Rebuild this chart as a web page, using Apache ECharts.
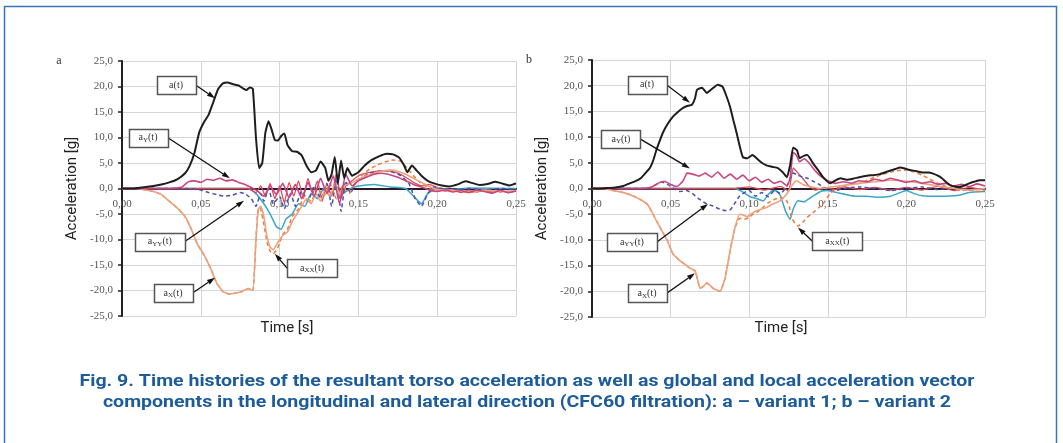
<!DOCTYPE html>
<html><head><meta charset="utf-8">
<script src="https://cdn.jsdelivr.net/npm/echarts@6/dist/echarts.min.js"></script>
<style>html,body{margin:0;padding:0;background:#fff}#c{width:1063px;height:443px}</style>
</head><body><div id="c"></div>
<script>
// ---------- DATA (time [s], acceleration [g]) ----------
const xTickStep = 0.05, yTickStep = 5;
// Panel a – variant 1
const a_res_A = [[0,0],[0.005,0],[0.01,0.1],[0.015,0.3],[0.02,0.5],[0.025,0.8],[0.03,1.2],[0.035,1.8],[0.04,3],[0.043,4.5],[0.046,7],[0.049,11],[0.052,13],[0.055,14.5],[0.058,17],[0.061,19.5],[0.064,20.6],[0.067,20.8],[0.07,20.5],[0.074,20.2],[0.077,19.6],[0.079,19.3],[0.081,19.8],[0.083,19.6],[0.085,10],[0.087,4],[0.089,5],[0.091,11],[0.093,13.2],[0.095,11.5],[0.097,9.5],[0.099,9.4],[0.101,10.3],[0.103,10.8],[0.105,8.5],[0.108,7.3],[0.111,7.2],[0.114,6.5],[0.117,4.5],[0.12,3.2],[0.123,3.5],[0.126,5.3],[0.129,4],[0.131,1.5],[0.133,2.8],[0.135,6.2],[0.137,1],[0.139,5.5],[0.141,2],[0.143,4],[0.146,2.5],[0.15,3.2],[0.154,4.5],[0.158,5.5],[0.163,6.3],[0.168,6.8],[0.172,6.7],[0.176,6],[0.179,4.5],[0.181,3.2],[0.184,4.5],[0.187,3.5],[0.19,2.5],[0.194,1.5],[0.198,1],[0.203,0.6],[0.208,0.4],[0.213,0.8],[0.218,1.4],[0.222,1.1],[0.227,0.7],[0.232,0.9],[0.237,1.3],[0.242,0.9],[0.246,0.6],[0.25,1]];
const a_Y_A = [[0,0],[0.03,0],[0.038,0.3],[0.042,1.3],[0.046,1.5],[0.05,1.2],[0.054,1.8],[0.058,1.6],[0.062,2],[0.066,1.5],[0.07,1.7],[0.074,1.2],[0.078,0.8],[0.082,0.2],[0.086,-0.5],[0.09,-1.5],[0.094,0.5],[0.098,-1.2],[0.102,1],[0.106,-1.8],[0.11,0.8],[0.114,-2],[0.118,1.2],[0.122,-1.5],[0.126,2],[0.13,-1],[0.134,2.5],[0.138,-3],[0.142,2.8],[0.146,0.5],[0.15,1.5],[0.155,2.2],[0.16,2.8],[0.165,3],[0.17,2.7],[0.175,2.2],[0.18,1.5],[0.185,0.8],[0.19,0.3],[0.195,-0.3],[0.2,-0.6],[0.205,-0.3],[0.21,-0.7],[0.215,-0.4],[0.22,-0.8],[0.225,-0.3],[0.23,-0.6],[0.235,-0.9],[0.24,-0.4],[0.245,-0.8],[0.25,-0.5]];
const a_YY_A = [[0,0],[0.04,0],[0.05,-0.3],[0.055,-0.8],[0.06,-1.2],[0.065,-1.5],[0.07,-1.3],[0.075,-0.8],[0.078,-1],[0.082,-2],[0.085,-3.5],[0.088,-1],[0.09,-2.5],[0.093,0],[0.096,-3],[0.1,-1.5],[0.103,-4],[0.107,-1],[0.11,-3.5],[0.114,-0.5],[0.118,-2.5],[0.122,0.5],[0.126,-2],[0.13,1],[0.133,-3.5],[0.136,2],[0.139,-4.5],[0.142,1.5],[0.145,-1],[0.148,1],[0.152,2],[0.157,3],[0.162,3.3],[0.167,3.5],[0.172,3.2],[0.177,2.5],[0.182,1],[0.186,-2],[0.19,-3.5],[0.194,-1],[0.198,0.3],[0.203,0],[0.21,-0.3],[0.22,0],[0.23,-0.3],[0.24,0],[0.25,-0.2]];
const a_X_A = [[0,0],[0.01,0],[0.015,-0.3],[0.02,-0.6],[0.025,-1.2],[0.03,-2.5],[0.035,-3.8],[0.04,-5.5],[0.044,-8],[0.048,-11],[0.052,-13],[0.056,-15.5],[0.06,-18.5],[0.064,-20.2],[0.068,-20.7],[0.072,-20.5],[0.076,-20.2],[0.08,-19.6],[0.083,-20],[0.085,-10],[0.0865,-4],[0.088,-3.5],[0.09,-5.5],[0.092,-9.5],[0.094,-11.5],[0.096,-12],[0.099,-10.5],[0.102,-9.2],[0.105,-8.5],[0.108,-6.5],[0.111,-5],[0.114,-3.5],[0.117,-2],[0.12,-3],[0.123,-1],[0.126,-2.5],[0.129,0],[0.132,-1.5],[0.135,1],[0.138,-1],[0.141,0.5],[0.145,1],[0.15,1.8],[0.155,2.5],[0.16,3],[0.165,3.4],[0.17,3.6],[0.175,3.4],[0.18,2.8],[0.185,2],[0.19,1.2],[0.195,0.4],[0.2,-0.2],[0.21,-0.4],[0.22,-0.6],[0.23,-0.3],[0.24,-0.6],[0.25,-0.4]];
const a_XX_A = [[0,0],[0.01,0],[0.015,-0.3],[0.02,-0.6],[0.025,-1.2],[0.03,-2.5],[0.035,-3.8],[0.04,-5.5],[0.044,-8],[0.048,-11],[0.052,-13],[0.056,-15.5],[0.06,-18.5],[0.064,-20.2],[0.068,-20.7],[0.072,-20.5],[0.076,-20.2],[0.08,-19.6],[0.083,-20],[0.085,-10],[0.0865,-3.8],[0.088,-4],[0.09,-7],[0.092,-10.5],[0.094,-12.3],[0.096,-12.8],[0.099,-11.5],[0.102,-9],[0.105,-8],[0.108,-5.5],[0.112,-4],[0.116,-1.5],[0.12,-2.5],[0.124,0],[0.128,-1.5],[0.132,1],[0.136,-2],[0.14,0.5],[0.144,-1],[0.148,1],[0.152,2.5],[0.157,3.8],[0.162,4.6],[0.167,5.2],[0.172,5.6],[0.177,5.3],[0.181,4],[0.185,2.5],[0.19,1],[0.195,0],[0.2,-0.5],[0.21,-0.3],[0.22,-0.8],[0.23,-0.4],[0.24,-0.7],[0.25,-0.5]];
const a_cyan_A = [[0,0],[0.08,0],[0.085,-1],[0.09,-3],[0.094,-5],[0.098,-7.5],[0.101,-8],[0.104,-6],[0.108,-5],[0.112,-3],[0.116,-3.5],[0.12,-1],[0.124,-2],[0.128,0],[0.132,-1.5],[0.136,0.5],[0.14,-1],[0.145,0],[0.15,0.5],[0.16,0.8],[0.17,0.3],[0.18,0],[0.185,-1.5],[0.19,-3],[0.194,-1],[0.2,0],[0.21,-0.2],[0.22,0.1],[0.25,0]];
const a_red_A = [[0,0],[0.08,0],[0.085,-0.8],[0.088,0.5],[0.091,-1.5],[0.094,1],[0.097,-2],[0.1,0.5],[0.103,-2.8],[0.106,1.2],[0.109,-1.5],[0.112,1.5],[0.115,-2],[0.118,2],[0.121,-1],[0.124,1.5],[0.127,-2.5],[0.13,1],[0.133,-1.5],[0.136,3],[0.139,-2],[0.142,0.5],[0.146,1.5],[0.15,2.5],[0.155,3],[0.16,3.3],[0.165,3.5],[0.17,3.4],[0.175,3],[0.18,2.2],[0.185,1.2],[0.19,0.5],[0.195,0.8],[0.2,0.2],[0.205,-0.5],[0.21,-0.2],[0.215,-0.8],[0.22,-0.3],[0.225,-0.7],[0.23,-0.2],[0.235,-0.7],[0.24,-0.3],[0.245,-0.8],[0.25,-0.4]];
// Panel b – variant 2
const a_res_B = [[0,0],[0.005,0],[0.01,0.1],[0.015,0.2],[0.02,0.5],[0.024,1],[0.028,1.5],[0.031,2],[0.034,3],[0.037,4.1],[0.039,5.5],[0.041,7.5],[0.043,9.2],[0.045,10.8],[0.048,12.5],[0.0515,14],[0.055,15],[0.058,15.7],[0.061,16.1],[0.0636,16.3],[0.0655,17.5],[0.0668,19.2],[0.07,19.6],[0.073,18.6],[0.076,19.3],[0.08,20.2],[0.083,19.8],[0.0855,18],[0.0878,15.9],[0.09,13.2],[0.092,10.8],[0.094,8.2],[0.096,6.1],[0.099,5.9],[0.102,6.5],[0.105,5.8],[0.108,5],[0.111,4.5],[0.115,4.2],[0.118,4],[0.1215,3.1],[0.124,2.2],[0.126,4.5],[0.128,8],[0.1305,7.4],[0.132,5.9],[0.135,6.4],[0.137,6.5],[0.1406,4.9],[0.144,3.5],[0.147,2.2],[0.1514,1],[0.155,1.6],[0.158,2],[0.162,1.7],[0.166,1.9],[0.17,2.2],[0.175,2.5],[0.179,2.6],[0.183,2.8],[0.187,3.2],[0.19,3.5],[0.193,3.8],[0.196,4.1],[0.199,3.9],[0.202,3.6],[0.206,3.4],[0.2105,3.1],[0.214,3.1],[0.217,2.9],[0.22,2.5],[0.2226,2],[0.225,1.3],[0.228,0.6],[0.231,0.4],[0.234,0.3],[0.237,0.6],[0.24,1],[0.243,1.3],[0.2468,1.6],[0.25,1.6]];
const a_Y_B = [[0,0],[0.03,0],[0.038,0.3],[0.042,1],[0.046,1.4],[0.05,0.8],[0.054,0.4],[0.058,1.5],[0.0605,3],[0.064,2.8],[0.068,2.4],[0.072,3],[0.076,2.2],[0.08,3.2],[0.084,2],[0.088,2.8],[0.092,1.8],[0.096,2.6],[0.1,1.5],[0.104,2.2],[0.108,1.2],[0.112,1.8],[0.116,1],[0.12,1.4],[0.124,0.5],[0.126,2],[0.128,7],[0.13,6.5],[0.132,5.2],[0.135,5.8],[0.138,5],[0.141,3.8],[0.145,2.5],[0.1495,1.6],[0.155,1],[0.16,1.3],[0.165,1],[0.17,1.5],[0.175,1.3],[0.18,1.8],[0.185,1.5],[0.19,2],[0.195,1.6],[0.2,1.2],[0.205,1.5],[0.21,1],[0.215,1.3],[0.22,0.8],[0.225,1],[0.23,0.5],[0.235,0.8],[0.24,0.4],[0.245,0.9],[0.25,0.5]];
const a_YY_B = [[0,0],[0.035,0],[0.04,0.6],[0.044,1.3],[0.048,0.8],[0.052,0],[0.056,-0.6],[0.06,-0.4],[0.064,-1],[0.068,-2],[0.073,-3],[0.077,-3.4],[0.081,-4],[0.0845,-4.3],[0.088,-4.1],[0.091,-2.8],[0.094,-1.4],[0.098,-0.6],[0.1,-0.4],[0.104,-1.5],[0.108,-0.8],[0.112,-1.6],[0.116,-0.4],[0.12,-1],[0.124,0.5],[0.128,3],[0.131,2.6],[0.134,2.2],[0.137,2],[0.14,1.5],[0.1446,0.8],[0.148,0],[0.155,-0.4],[0.16,0],[0.17,0.3],[0.18,0],[0.19,-0.4],[0.2,0],[0.21,0.3],[0.22,-0.2],[0.23,0.2],[0.24,-0.3],[0.25,0]];
const a_X_B = [[0,0],[0.008,0],[0.0134,-0.4],[0.02,-0.8],[0.026,-1.4],[0.031,-2.2],[0.035,-3],[0.038,-4.5],[0.041,-6.3],[0.045,-8.5],[0.048,-10.2],[0.0515,-12.7],[0.056,-14.1],[0.0595,-14.8],[0.0623,-15.5],[0.0655,-16],[0.067,-17.5],[0.0687,-19.4],[0.071,-19],[0.073,-18.4],[0.075,-18.8],[0.077,-19.4],[0.0814,-20],[0.0846,-17.5],[0.0878,-12.2],[0.091,-7.6],[0.094,-5],[0.0965,-5.2],[0.0986,-5.5],[0.1024,-4.7],[0.106,-4.2],[0.111,-3.7],[0.115,-3],[0.1196,-2.4],[0.124,-1],[0.127,0.5],[0.13,1.5],[0.134,0.8],[0.14,0.3],[0.146,0],[0.152,0.3],[0.16,0.6],[0.17,1],[0.18,1.3],[0.19,1.6],[0.2,1.4],[0.21,1],[0.22,0.5],[0.23,0],[0.24,-0.3],[0.25,0]];
const a_XX_B = [[0,0],[0.008,0],[0.0134,-0.4],[0.02,-0.8],[0.026,-1.4],[0.031,-2.2],[0.035,-3],[0.038,-4.5],[0.041,-6.3],[0.045,-8.5],[0.048,-10.2],[0.0515,-12.7],[0.056,-14.1],[0.0595,-14.8],[0.0623,-15.5],[0.0655,-16],[0.067,-17.5],[0.0687,-19.4],[0.071,-19],[0.073,-18.4],[0.075,-18.8],[0.077,-19.4],[0.0814,-20],[0.0846,-17.5],[0.0878,-12.2],[0.091,-7.6],[0.094,-5.8],[0.097,-6],[0.1,-5.6],[0.1024,-5],[0.106,-4.4],[0.109,-3.6],[0.112,-2.8],[0.1155,-2.2],[0.1196,-1.8],[0.123,-2],[0.1255,-3.5],[0.127,-5.7],[0.129,-6.7],[0.131,-7.3],[0.134,-6.6],[0.137,-5.6],[0.1406,-4.7],[0.144,-3.8],[0.147,-3],[0.1514,-1],[0.155,0],[0.16,0.5],[0.165,0.8],[0.17,1],[0.175,1.6],[0.18,2.2],[0.185,2.8],[0.19,3.2],[0.195,3.5],[0.2,3.6],[0.205,3.2],[0.21,2.6],[0.215,1.8],[0.22,1],[0.225,0.4],[0.23,0],[0.235,-0.4],[0.24,-0.2],[0.245,-0.6],[0.25,-0.3]];
const a_cyan_B = [[0,0],[0.09,0],[0.095,-0.5],[0.1,-1.5],[0.105,-2],[0.109,-2.4],[0.112,-1.2],[0.115,-0.4],[0.118,-0.6],[0.12,-1.5],[0.123,-4.3],[0.126,-6],[0.128,-4],[0.131,-2.4],[0.135,-2.6],[0.138,-2],[0.141,-1.4],[0.146,-0.5],[0.15,-0.4],[0.156,-0.8],[0.162,-1.2],[0.168,-1.5],[0.175,-1.5],[0.182,-1.7],[0.19,-1.5],[0.196,-0.8],[0.2,-0.4],[0.205,-1],[0.21,-1.4],[0.22,-1.5],[0.23,-1.4],[0.235,-1.2],[0.24,-0.8],[0.25,-0.6]];
const a_red_B = [[0,0],[0.09,0],[0.1,0.3],[0.11,-0.3],[0.12,0.4],[0.125,-0.5],[0.128,4],[0.131,3],[0.134,2],[0.138,0.5],[0.142,-0.3],[0.148,0.2],[0.155,-0.2],[0.16,0.3],[0.17,-0.2],[0.18,0.2],[0.19,-0.3],[0.2,0.2],[0.21,-0.3],[0.22,0.4],[0.23,-0.4],[0.24,0.2],[0.25,-0.3]];
// Callout labels: text, box centre [t,g], arrow tip [t,g]
const calloutsA = [
  {txt:'a(t)', box:[0.0343,20.3], tip:[0.059,17.7], side:'r'},
  {txt:'a{s|Y}(t)', box:[0.0165,10.0], tip:[0.0685,2.0], side:'r'},
  {txt:'a{s|YY}(t)', box:[0.024,-10.4], tip:[0.0774,-2.4], side:'r'},
  {txt:'a{s|X}(t)', box:[0.0324,-20.5], tip:[0.059,-17.5], side:'r'},
  {txt:'a{s|XX}(t)', box:[0.1206,-15.6], tip:[0.097,-12.8], side:'l'}
];
const calloutsB = [
  {txt:'a(t)', box:[0.035,20.2], tip:[0.0623,16.7], side:'r'},
  {txt:'a{s|Y}(t)', box:[0.0184,9.6], tip:[0.0623,3.9], side:'r'},
  {txt:'a{s|YY}(t)', box:[0.0254,-10.4], tip:[0.0738,-3.0], side:'r'},
  {txt:'a{s|X}(t)', box:[0.035,-20.4], tip:[0.0655,-16.5], side:'r'},
  {txt:'a{s|XX}(t)', box:[0.156,-10.2], tip:[0.131,-7.6], side:'l'}
];
const captionLines = [
  'Fig. 9. Time histories of the resultant torso acceleration as well as global and local acceleration vector',
  'components in the longitudinal and lateral direction (CFC60 filtration): a – variant 1; b – variant 2'
];
// ---------- CHART ----------
const SERIF = '"Liberation Serif","DejaVu Serif",serif';
const GRIDS = [{left:122,top:61,width:394,height:255},{left:592,top:60,width:393,height:257}];
const chart = echarts.init(document.getElementById('c'));
const fmtY = v => v.toFixed(1).replace('.', ',');
const fmtX = v => v.toFixed(2).replace('.', ',');
function xAx(i){return {gridIndex:i,type:'value',min:0,max:0.25,interval:xTickStep,position:'bottom',
  offset:-GRIDS[i].height/2,
  axisLine:{onZero:false,lineStyle:{color:'#2b1a2e',width:2}},axisTick:{show:false},
  axisLabel:{formatter:fmtX,fontFamily:SERIF,fontSize:11,color:'#555',margin:10},
  splitLine:{show:true,lineStyle:{color:'#d6d6d6',width:1}}};}
function yAx(i){return {gridIndex:i,type:'value',min:-25,max:25,interval:yTickStep,
  axisLine:{show:true,onZero:false,lineStyle:{color:'#222',width:2}},
  axisTick:{show:true,length:4,lineStyle:{color:'#222',width:1.5}},
  axisLabel:{formatter:fmtY,fontFamily:SERIF,fontSize:11,color:'#555',margin:9},
  splitLine:{show:true,lineStyle:{color:'#d6d6d6',width:1}},
  name:'Acceleration [g]',nameLocation:'middle',nameGap:42,
  nameTextStyle:{fontFamily:'Roboto',fontSize:15,color:'#222'}};}
function ln(data,i,color,w,dash,z){return {type:'line',data:data,xAxisIndex:i,yAxisIndex:i,
  showSymbol:false,symbol:'none',smooth:0.15,z:z,silent:true,
  lineStyle:{color:color,width:w,type:dash?[4,3]:'solid'}};}
const C = {res:'#1e1e1e', Y:'#c8457e', YY:'#4b4fae', X:'#eba27e', XX:'#f07a3a', cyan:'#3aa6c8', red:'#e04a55'};
const series = [];
[[0,[a_cyan_A,a_red_A,a_YY_A,a_XX_A,a_X_A,a_Y_A,a_res_A]],[1,[a_cyan_B,a_red_B,a_YY_B,a_XX_B,a_X_B,a_Y_B,a_res_B]]].forEach(([i,d])=>{
  series.push(ln(d[0],i,C.cyan,1.5,false,2));
  series.push(ln(d[1],i,C.red,1.3,false,2));
  series.push(ln(d[2],i,C.YY,1.5,true,3));
  series.push(ln(d[3],i,C.XX,1.5,true,3));
  series.push(ln(d[4],i,C.X,1.6,false,3));
  series.push(ln(d[5],i,C.Y,1.6,false,4));
  series.push(ln(d[6],i,C.res,2,false,5));
});
chart.setOption({
  animation:false,
  grid:GRIDS,
  xAxis:[xAx(0),xAx(1)], yAxis:[yAx(0),yAx(1)], series:series
});
// ---------- graphics (frame, captions, callouts) ----------
const g = [];
g.push({type:'rect',shape:{x:4.5,y:6.5,width:1052,height:460},style:{fill:'none',stroke:'#3c74b3',lineWidth:1.5},z:0});
g.push({type:'text',x:59,y:61,style:{text:'a',font:'12px '+SERIF,fill:'#333',align:'center',verticalAlign:'middle'}});
g.push({type:'text',x:529,y:60,style:{text:'b',font:'12px '+SERIF,fill:'#333',align:'center',verticalAlign:'middle'}});
g.push({type:'text',x:287,y:328,style:{text:'Time [s]',font:'15px Roboto',fill:'#222',align:'center',verticalAlign:'middle'}});
g.push({type:'text',x:781,y:328,style:{text:'Time [s]',font:'15px Roboto',fill:'#222',align:'center',verticalAlign:'middle'}});
const capFont = 'bold 17px Roboto';
const mctx = document.createElement('canvas').getContext('2d'); mctx.font = capFont;
const capScale = 895 / mctx.measureText(captionLines[0]).width;
captionLines.forEach((t,k)=>g.push({type:'text',x:527,y:382+k*21,scaleX:capScale,
  style:{text:t,font:capFont,fill:'#1d5c9b',align:'center',verticalAlign:'middle'}}));
[[0,calloutsA],[1,calloutsB]].forEach(([gi,list])=>{
  list.forEach(c=>{
    const b = chart.convertToPixel({gridIndex:gi}, c.box);
    const tp = chart.convertToPixel({gridIndex:gi}, c.tip);
    const wide = c.txt.indexOf('XX')>=0 || c.txt.indexOf('YY')>=0;
    const w = wide?50:39, h = 18;
    const sx = c.side==='r' ? b[0]+w/2 : b[0]-w/2, sy = b[1];
    const dx = tp[0]-sx, dy = tp[1]-sy, L = Math.hypot(dx,dy), ux = dx/L, uy = dy/L;
    const bx = tp[0]-ux*8, by = tp[1]-uy*8;
    g.push({type:'line',shape:{x1:sx,y1:sy,x2:bx,y2:by},style:{stroke:'#111',lineWidth:1.3},z:20});
    g.push({type:'polygon',shape:{points:[[tp[0],tp[1]],[bx-uy*2.6,by+ux*2.6],[bx+uy*2.6,by-ux*2.6]]},style:{fill:'#111'},z:20});
    g.push({type:'rect',shape:{x:Math.round(b[0]-w/2)+0.5,y:Math.round(b[1]-h/2)+0.5,width:w,height:h},style:{fill:'#fff',stroke:'#555',lineWidth:1.5},z:21});
    g.push({type:'text',x:b[0],y:b[1],z:22,style:{text:c.txt,align:'center',verticalAlign:'middle',
      font:'10px '+SERIF,fill:'#333',rich:{s:{fontSize:7,fontFamily:SERIF,fill:'#333',padding:[5,0,0,0]}}}});
  });
});
chart.setOption({graphic:g});
</script></body></html>
